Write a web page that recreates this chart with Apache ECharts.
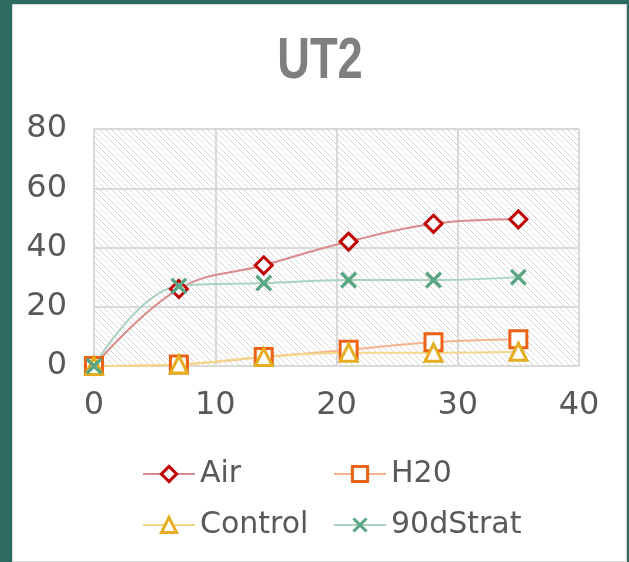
<!DOCTYPE html>
<html>
<head>
<meta charset="utf-8">
<script src="https://cdn.jsdelivr.net/npm/echarts@6/dist/echarts.min.js"></script>
<style>
  html, body { margin: 0; padding: 0; width: 629px; height: 562px; overflow: hidden; background: #2c6a62; }
  #card { position: absolute; left: 12px; top: 4px; width: 613px; height: 556px; background: #fff; border: 1px solid #d6d6d6; }
  #chart { position: absolute; left: 0; top: 0; width: 629px; height: 562px; }
</style>
</head>
<body>
<div id="card"></div>
<div id="chart"></div>
<script>
  const days = [0, 7, 14, 21, 28, 35];
  const air = [0, 26, 34, 42, 48, 49.5];
  const h20 = [0, 0.5, 3, 5.5, 8, 9];
  const control = [0, 0.5, 3, 4.5, 4.5, 4.8];
  const strat = [0, 27, 28, 29, 29, 30];

  // diagonal hatch for the plot area
  const hatch = document.createElement('canvas');
  hatch.width = 6;
  hatch.height = 6;
  const ctx = hatch.getContext('2d');
  ctx.fillStyle = '#fff';
  ctx.fillRect(0, 0, 6, 6);
  ctx.fillStyle = '#d6d6d6';
  for (let i = 0; i < 6; i++) {
    ctx.fillRect(i, i, 1, 1);
  }

  const cross = 'path://M0,1.4L1.4,0L5,3.6L8.6,0L10,1.4L6.4,5L10,8.6L8.6,10L5,6.4L1.4,10L0,8.6L3.6,5Z';
  const font = 'DejaVu Sans';

  function pairs(vals) {
    return days.map((d, i) => [d, vals[i]]);
  }

  function makeSeries(name, vals, symbol, mark, line, filled) {
    return {
      name: name,
      type: 'line',
      data: pairs(vals),
      smooth: 0.4,
      symbol: symbol,
      symbolSize: 17,
      lineStyle: { color: line, width: 2 },
      itemStyle: filled
        ? { color: mark, borderWidth: 0 }
        : { color: '#fff', borderColor: mark, borderWidth: 3 },
      emphasis: { disabled: true }
    };
  }

  function makeLegend(names, left) {
    return {
      data: names,
      orient: 'vertical',
      left: left,
      top: 454,
      itemWidth: 52,
      itemHeight: 19,
      itemGap: 21,
      itemStyle: { borderWidth: 3 },
      lineStyle: { width: 2 },
      textStyle: { color: '#595959', fontSize: 30, fontFamily: font, lineHeight: 30 }
    };
  }

  const chart = echarts.init(document.getElementById('chart'));

  const option = {
    animation: false,
    backgroundColor: 'transparent',
    graphic: [
      {
        type: 'text',
        x: 320,
        y: 62,
        scaleX: 0.78,
        style: {
          text: 'UT2',
          font: 'bold 58px "Liberation Sans"',
          fill: '#7f7f7f',
          align: 'center',
          verticalAlign: 'middle'
        }
      }
    ],
    grid: {
      left: 94,
      right: 50,
      top: 129,
      bottom: 196,
      show: true,
      borderWidth: 0,
      backgroundColor: { image: hatch, repeat: 'repeat' }
    },
    xAxis: {
      type: 'value',
      min: 0,
      max: 40,
      interval: 10,
      axisLine: { show: true, lineStyle: { color: '#d9d9d9', width: 2 } },
      axisTick: { show: false },
      splitLine: { show: true, lineStyle: { color: '#d9d9d9', width: 2 } },
      axisLabel: { color: '#595959', fontSize: 32, fontFamily: font, margin: 24 }
    },
    yAxis: {
      type: 'value',
      min: 0,
      max: 80,
      interval: 20,
      axisLine: { show: true, lineStyle: { color: '#d9d9d9', width: 2 } },
      axisTick: { show: false },
      splitLine: { show: true, lineStyle: { color: '#d9d9d9', width: 2 } },
      axisLabel: { color: '#595959', fontSize: 32, fontFamily: font, margin: 27 }
    },
    legend: [
      makeLegend(['Air', 'Control'], 137),
      makeLegend(['H20', '90dStrat'], 328)
    ],
    series: [
      makeSeries('Air', air, 'diamond', '#c00000', '#d98a8a', false),
      makeSeries('H20', h20, 'rect', '#ec6214', '#f6b48e', false),
      makeSeries('Control', control, 'triangle', '#e5ad1f', '#f3d88c', false),
      makeSeries('90dStrat', strat, cross, '#5aa684', '#a9d3c0', true)
    ]
  };

  chart.setOption(option);
</script>
</body>
</html>
